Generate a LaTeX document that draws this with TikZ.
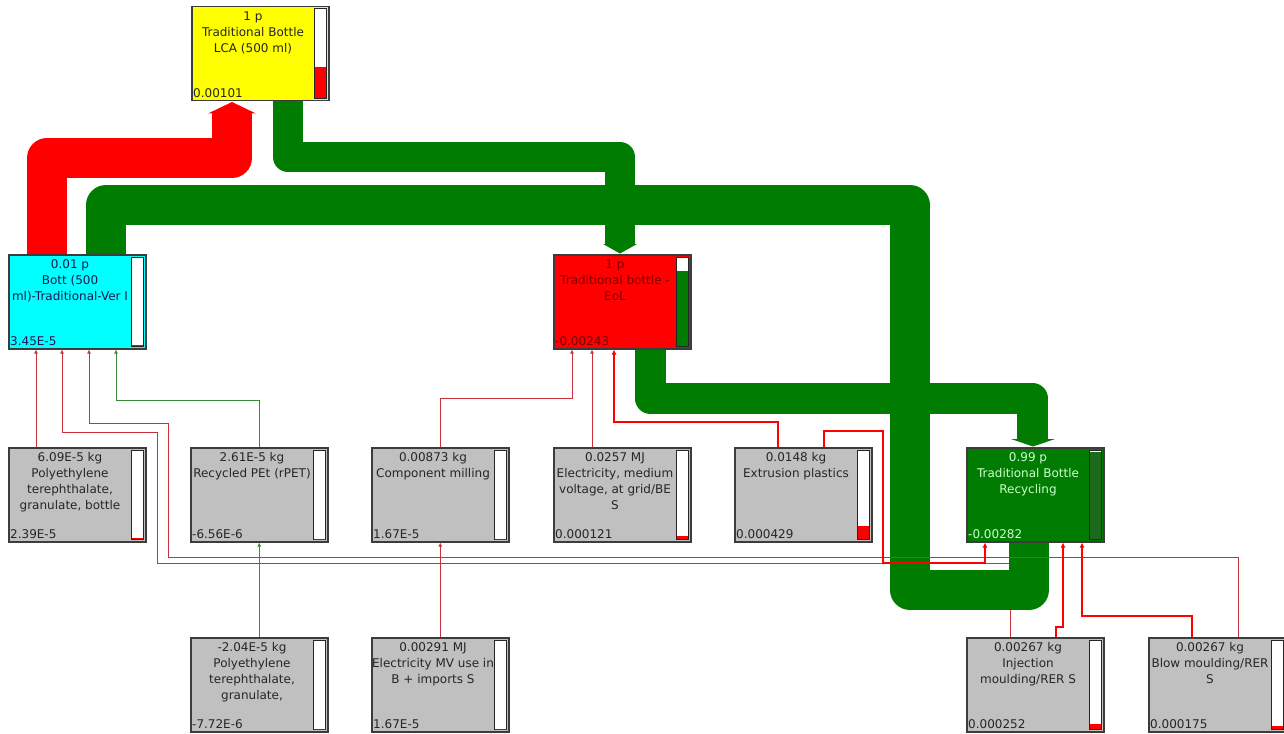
\documentclass[tikz,border=0pt]{standalone}
\usepackage{fontspec}
\setmainfont{DejaVu Sans}
\usetikzlibrary{arrows.meta, calc}
\definecolor{lcaYellow}{HTML}{FFFF00}
\definecolor{lcaCyan}{HTML}{00FFFF}
\definecolor{lcaRed}{HTML}{FF0000}
\definecolor{lcaGreen}{HTML}{007D00}
\definecolor{lcaGrey}{HTML}{C0C0C0}
\definecolor{lcaEdge}{HTML}{3C3C3C}
\definecolor{lcaLine}{HTML}{C8323C}
\definecolor{lcaLineG}{HTML}{3A8A3A}
\definecolor{lcaBarG}{HTML}{1C6B1C}
\definecolor{lcaTxtRed}{HTML}{7A0000}
\definecolor{lcaTxtGreen}{HTML}{CCFFCC}
\definecolor{lcaTxtCyan}{HTML}{1A1A50}
\tikzset{
  procbox/.style={draw=lcaEdge, line width=1.5pt, minimum width=137pt,
    minimum height=94pt, anchor=north west, inner sep=0pt},
  yellowbox/.style={procbox, fill=lcaYellow},
  cyanbox/.style={procbox, fill=lcaCyan},
  redbox/.style={procbox, fill=lcaRed},
  greenbox/.style={procbox, fill=lcaGreen},
  greybox/.style={procbox, fill=lcaGrey},
  boxtext/.style={font=\fontsize{12}{16}\selectfont, align=center, anchor=north, inner sep=0pt},
  boxval/.style={font=\fontsize{12}{16}\selectfont, anchor=base west, inner sep=0pt},
  barline/.style={draw=black!85, fill=white, line width=1pt},
  redflow/.style={lcaRed, line width=40pt, line join=round},
  greenflow/.style={lcaGreen, line width=40pt, line join=round},
  greenpipe/.style={lcaGreen, line width=31pt, line join=round},
  thinred/.style={-{Latex[length=4pt,width=4pt]}, lcaLine, line width=0.9pt},
  thingreen/.style={-{Latex[length=4pt,width=4pt]}, lcaLineG, line width=0.9pt},
  thickred/.style={-{Latex[length=5pt,width=5pt]}, lcaRed, line width=2.2pt}
}
% name, x, y, box style, text colour, text, value, bar colour, bar height
\newcommand{\lcanode}[9]{%
  \node[#4] (#1) at (#2,#3) {};
  \filldraw[barline] ($(#1.north east)+(-15,3)$) rectangle ($(#1.south east)+(-3,-3)$);
  \fill[#8] ($(#1.south east)+(-14.5,-3.5)$) rectangle ++(11,{-(#9)});
  \node[boxtext, text=#5] (#1-name) at ($(#1.north west)+(62,5.5)$) {#6};
  \node[boxval, text=#5] (#1-val) at ($(#1.south west)+(2,-3.8)$) {#7};
}

\begin{document}
\begin{tikzpicture}[x=1pt, y=-1pt]
  \fill[white] (0,0) rectangle (1284,733);
  \clip (0,0) rectangle (1284,733);

  % process boxes
  \lcanode{lca}{191}{6}{yellowbox}{black!85}{1 p\\Traditional Bottle\\LCA (500 ml)}{0.00101}{lcaRed}{31}
  \lcanode{bott}{8}{254}{cyanbox}{lcaTxtCyan}{0.01 p\\Bott (500\\ml)-Traditional-Ver I}{3.45E-5}{lcaRed}{1}
  \lcanode{eol}{553}{254}{redbox}{lcaTxtRed}{1 p\\Traditional bottle -\\EoL}{-0.00243}{lcaGreen}{75}
  \lcanode{recyc}{966}{447}{greenbox}{lcaTxtGreen}{0.99 p\\Traditional Bottle\\Recycling}{-0.00282}{lcaBarG}{87}
  \lcanode{petb}{8}{447}{greybox}{black!85}{6.09E-5 kg\\Polyethylene\\terephthalate,\\granulate, bottle}{2.39E-5}{lcaRed}{1}
  \lcanode{rpet}{190}{447}{greybox}{black!85}{2.61E-5 kg\\Recycled PEt (rPET)}{-6.56E-6}{white}{0}
  \lcanode{milling}{371}{447}{greybox}{black!85}{0.00873 kg\\Component milling}{1.67E-5}{white}{0}
  \lcanode{elecmed}{553}{447}{greybox}{black!85}{0.0257 MJ\\Electricity, medium\\voltage, at grid/BE\\S}{0.000121}{lcaRed}{3}
  \lcanode{extru}{734}{447}{greybox}{black!85}{0.0148 kg\\Extrusion plastics}{0.000429}{lcaRed}{13}
  \lcanode{polygran}{190}{637}{greybox}{black!85}{-2.04E-5 kg\\Polyethylene\\terephthalate,\\granulate,}{-7.72E-6}{white}{0}
  \lcanode{elecmv}{371}{637}{greybox}{black!85}{0.00291 MJ\\Electricity MV use in\\B + imports S}{1.67E-5}{white}{0}
  \lcanode{inject}{966}{637}{greybox}{black!85}{0.00267 kg\\Injection\\moulding/RER S}{0.000252}{lcaRed}{5}
  \lcanode{blow}{1148}{637}{greybox}{black!85}{0.00267 kg\\Blow moulding/RER\\S}{0.000175}{lcaRed}{3}

  % line that runs under the big flow
  \draw[thinred] ($(inject.north west)+(44,0)$) |- (157,563) -- (157,432)
    -| ($(bott.south west)+(54,0)$);

  % flows
  \draw[redflow] ($(bott.north west)+(39,0)$) |- (232,158) -- ($(lca.south west)+(41,12)$);
  \fill[lcaRed] ($(lca.south west)+(17,12)$) -- ++(48,0) -- ($(lca.south west)+(41,0.5)$) -- cycle;
  \draw[greenpipe, line width=30pt] ($(lca.south west)+(97,0)$) |- (620,157) -- ($(eol.north west)+(67,-9)$);
  \fill[lcaGreen] ($(eol.north west)+(50,-10)$) -- ++(34,0) -- ($(eol.north west)+(67,-0.5)$) -- cycle;
  \draw[greenflow] ($(bott.north west)+(98,0)$) |- (910,205) |- (1029,590)
    -- ($(recyc.south west)+(63,0)$);
  \draw[greenpipe] ($(eol.south west)+(97,0)$) |- (1032,398) -- ($(recyc.north west)+(66,-7)$);
  \fill[lcaGreen] ($(recyc.north west)+(45,-8)$) -- ++(44,0) -- ($(recyc.north west)+(67,-0.5)$) -- cycle;

  % thin connectors
  \draw[thinred] ($(petb.north west)+(28,0)$) -- ($(bott.south west)+(28,0)$);
  \draw[thinred] ($(blow.north west)+(90,0)$) |- (168,557) -- (168,423)
    -| ($(bott.south west)+(81,0)$);
  \draw[thingreen] (rpet.north) -- ++(0,-47) -| ($(bott.south west)+(108,0)$);
  \draw[thingreen] (polygran.north) -- (rpet.south);
  \draw[thinred] (elecmv.north) -- (milling.south);
  \draw[thinred] (milling.north) -- ++(0,-49) -| ($(eol.south west)+(19,0)$);
  \draw[thinred] ($(elecmed.north west)+(39,0)$) -- ($(eol.south west)+(39,0)$);
  \draw[thickred] ($(extru.north west)+(44,0)$) -- ++(0,-25) -| ($(eol.south west)+(61,0)$);
  \draw[thickred] ($(extru.north west)+(90,0)$) -- ++(0,-16) -| (883,563)
    -| ($(recyc.south west)+(19,0)$);
  \draw[thickred] ($(inject.north west)+(90,0)$) -- ++(0,-10) -| ($(recyc.south west)+(97,0)$);
  \draw[thickred] ($(blow.north west)+(44,0)$) -- ++(0,-21) -| ($(recyc.south west)+(116,0)$);
\end{tikzpicture}
\end{document}
